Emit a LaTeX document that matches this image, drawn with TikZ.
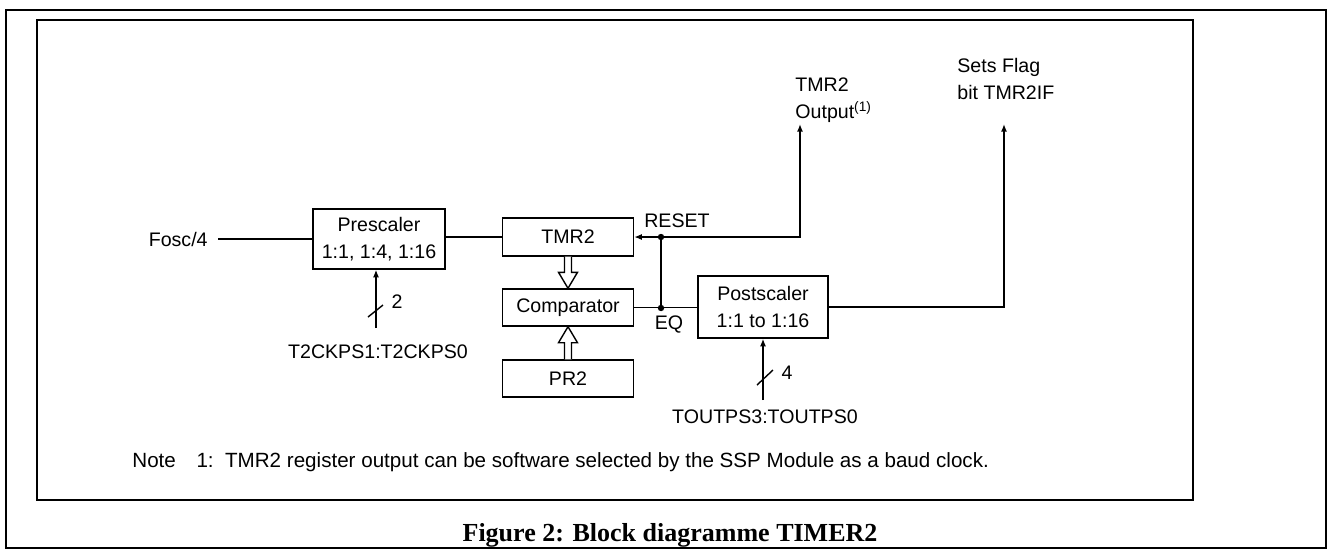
\documentclass[tikz,border=0pt]{standalone}
\usepackage{fontspec}
\setmainfont{Liberation Serif}
\newfontfamily\labfont{Liberation Sans}
\usetikzlibrary{arrows.meta,calc}
\begin{document}
\begin{tikzpicture}[x=0.5pt,y=-0.5pt,
  every node/.style={font=\labfont\fontsize{9.8}{13.5}\selectfont, inner sep=0pt},
  blk/.style={draw, line width=0.7pt, align=center},
  wire/.style={line width=0.7pt},
  sig/.style={wire, -{Latex[length=3.8pt,width=3pt]}},
  busarrow/.style={draw, line width=0.7pt, fill=white, line join=miter},
  junction/.style={circle, fill, minimum size=3.2pt},
  frame/.style={line width=0.9pt}]
\useasboundingbox (0,0) rectangle (1329,553);

% frames
\draw[frame] (6,10) rectangle (1326,548);
\draw[frame] (37,20) rectangle (1193,500);

% blocks
\node[blk, minimum width=66pt, minimum height=30pt] (pre) at (379,239) {Prescaler\\1:1, 1:4, 1:16};
\node[blk, minimum width=65.5pt, minimum height=19pt] (tmr) at (568,237) {TMR2};
\node[blk, minimum width=65.5pt, minimum height=18.5pt] (cmp) at (568,307.5) {Comparator};
\node[blk, minimum width=65.5pt, minimum height=18.5pt] (pr) at (568,378.5) {PR2};
\node[blk, minimum width=65pt, minimum height=31pt] (post) at (763,307) {Postscaler\\1:1 to 1:16};

% labels
\node[anchor=east] (fosc) at (208,239) {Fosc/4};
\node (t2) at (378,352) {T2CKPS1:T2CKPS0};
\node (tout) at (765,417) {TOUTPS3:TOUTPS0};
\node (reset) at (677,221) {RESET};
\node (eq) at (669,325) {EQ};
\node[anchor=west, align=left] (outlbl) at (795,100) {TMR2\\Output\textsuperscript{(1)}};
\node[anchor=west, align=left] (flaglbl) at (957,79) {Sets Flag\\bit TMR2IF};
\node (two) at (397,302) {2};
\node (four) at (787,373) {4};

% junctions and free ends
\node[junction] (d1) at (661,237) {};
\node[junction] (d2) at (661,308) {};
\coordinate (psel) at (376,328);
\coordinate (osel) at (763,400);
\coordinate (outtip) at (800,124);
\coordinate (flagtip) at (1004,124);

% connections
\draw[wire] ([xshift=5pt]fosc.east) -- (pre.west |- fosc.east);
\draw[wire] (pre.east |- tmr.west) -- (tmr.west);
\draw[wire] (cmp.east) -- (post.west |- cmp.east);
\draw[wire] (d2.center) -- (d1.center);
\draw[sig] (d1.center) -- (tmr.east);
\draw[sig] (d1.center) -| (outtip);
\draw[sig] (post.east) -| (flagtip);
\draw[sig] (psel) -- (psel |- pre.south);
\draw[sig] (osel) -- (osel |- post.south);

% bus width marks
\draw[wire] ($(psel)+(-8,-11)$) -- ($(psel)+(7,-23)$);
\draw[wire] ($(osel)+(-6,-15)$) -- ($(osel)+(10,-30)$);

% wide data-path arrows
\draw[busarrow] ($(tmr.south)+(-3.5,0)$) -- ($(cmp.north)+(-3.5,-16)$) -- ($(cmp.north)+(-9.5,-16)$)
  -- (cmp.north) -- ($(cmp.north)+(9.5,-16)$) -- ($(cmp.north)+(3.5,-16)$) -- ($(tmr.south)+(3.5,0)$);
\draw[busarrow] ($(pr.north)+(-3.5,0)$) -- ($(cmp.south)+(-3.5,16)$) -- ($(cmp.south)+(-9.5,16)$)
  -- (cmp.south) -- ($(cmp.south)+(9.5,16)$) -- ($(cmp.south)+(3.5,16)$) -- ($(pr.north)+(3.5,0)$);

% note and caption
\node[anchor=west, font=\labfont\fontsize{10.3}{12}\selectfont] (note) at (132,462) {Note\quad 1:\ \ TMR2 register output can be software selected by the SSP Module as a baud clock.};
\node[font=\rmfamily\bfseries\fontsize{13}{15}\selectfont] (cap) at (670,535) {Figure 2: Block diagramme TIMER2};
\end{tikzpicture}
\end{document}
